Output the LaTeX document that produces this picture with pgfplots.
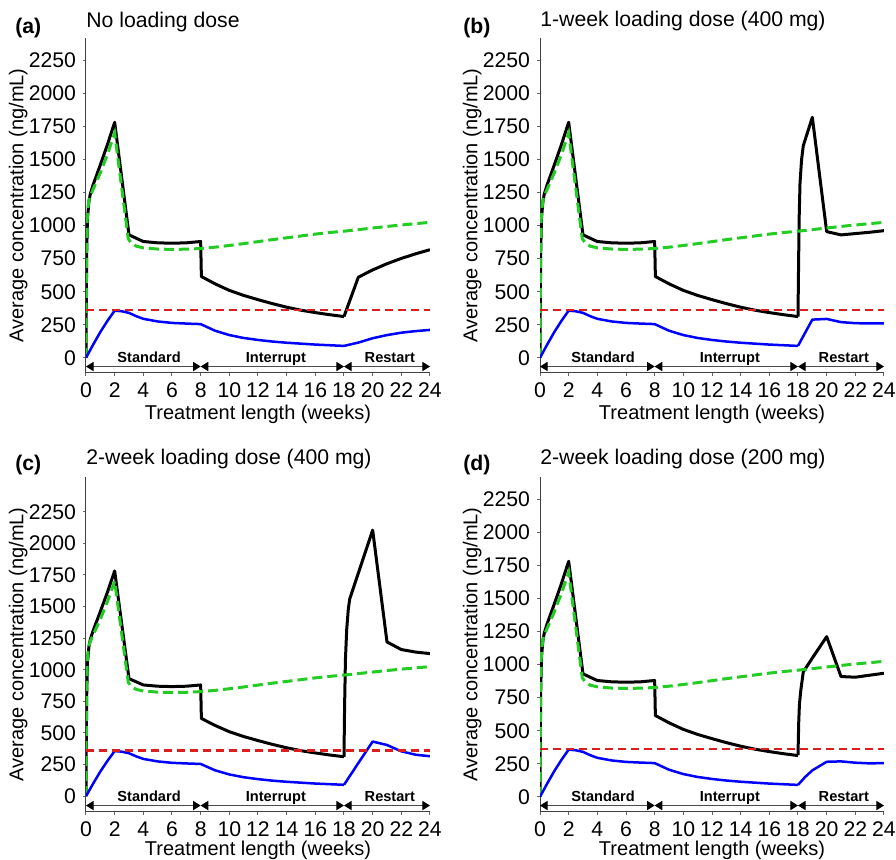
\documentclass[border=0pt]{standalone}
\usepackage{fontspec}
\setmainfont{Liberation Sans}
\usepackage{pgfplots}
\pgfplotsset{compat=1.18}
\usepackage{pgfplotstable}
\usetikzlibrary{arrows.meta}

\definecolor{cgreen}{RGB}{34,204,34}
\definecolor{cred}{RGB}{220,30,30}
\definecolor{cblue}{RGB}{0,0,255}

% ---- shared parts of the curves ----
\pgfplotstableread{
t c
0 0
0.02 500
0.05 900
0.1 1100
0.2 1190
0.3 1225
1 1400
1.5 1540
2 1700
2.95 900
3.2 865
3.5 845
4 832
5 823
6 820
7 822
8 827
9 837
10 850
11 864
12 879
13 894
14 908
15 922
16 936
17 948
18 958
19 970
20 982
21 994
22 1005
23 1015
24 1025
}\green

\pgfplotstableread{
t c
0 0
0.02 400
0.05 800
0.1 1050
0.2 1180
0.3 1240
0.5 1310
1 1460
1.5 1615
2 1782
3 930
4 880
5 870
6 867
7 870
8 880
8.05 615
9 560
10 510
11 472
12 440
13 410
14 383
15 360
16 342
17 326
18 312
}\blackbase

\pgfplotstableread{
t c
0 0
0.5 100
1 195
1.5 280
2 357
2.5 352
3 340
3.5 315
4 295
5 275
6 264
7 259
8 255
9 205
10 172
11 150
12 135
13 123
14 114
15 107
16 100
17 95
18 90
}\bluebase

% ---- restart phase, per panel ----
\pgfplotstableread{
t c
18 312
19 610
20 665
21 712
22 752
23 787
24 818
}\blackA
\pgfplotstableread{
t c
18 90
19 115
20 148
21 172
22 190
23 202
24 211
}\blueA

\pgfplotstableread{
t c
18 312
18.04 700
18.08 1050
18.14 1320
18.25 1500
18.37 1605
19 1820
20 955
21 930
22 940
23 950
24 962
}\blackB
\pgfplotstableread{
t c
18 90
18.5 190
19 289
20 294
21 270
22 262
23 260
24 260
}\blueB

\pgfplotstableread{
t c
18 312
18.04 700
18.1 1080
18.19 1320
18.3 1480
18.4 1560
19 1764
20 2105
21 1220
22 1160
23 1140
24 1128
}\blackC
\pgfplotstableread{
t c
18 90
19 262
20 432
21 405
22 355
23 328
24 316
}\blueC

\pgfplotstableread{
t c
18 315
18.05 560
18.1 700
18.2 810
18.37 945
19 1050
20 1212
21 910
22 905
23 920
24 935
}\blackD
\pgfplotstableread{
t c
18 90
18.5 150
19 200
20 265
21 268
22 258
23 253
24 255
}\blueD

\pgfplotsset{
  panel/.style={
    scale only axis, width=172pt, height=167.5pt,
    anchor=south west,
    xmin=0, xmax=24, xtick={0,2,...,24},
    ytick={0,250,...,2250},
    axis x line*=bottom, axis y line*=left,
    axis line style={-, black!75, line width=0.5pt},
    tick align=outside, major tick length=1.5pt,
    tick style={black!60, line width=0.5pt},
    tick label style={font=\fontsize{10.6}{12}\selectfont},
    /pgf/number format/assume math mode=true,
    /pgf/number format/1000 sep={},
    xlabel={Treatment length (weeks)},
    ylabel={Average concentration (ng/mL)},
    label style={font=\fontsize{10.8}{12}\selectfont},
    every axis y label/.style={at={(axis description cs:-0.197,0.5)}, rotate=90, anchor=center},
    every axis x label/.style={at={(axis description cs:0.5,0)}, anchor=center, yshift=-19pt},
  },
  toprow/.style={every axis x label/.append style={yshift=-1.8pt}},
  blk/.style={black, line width=1.5pt, line join=round},
  grn/.style={cgreen, line width=1.5pt, dash pattern=on 5pt off 2.5pt},
  blu/.style={cblue, line width=1.25pt, line join=round},
  rdd/.style={cred, line width=1.2pt, dash pattern=on 4pt off 2.5pt},
}

\tikzset{
  tip/.tip={Triangle[length=3.8pt,width=4.6pt,fill=black,color=black]},
  phaselbl/.style={font=\bfseries\fontsize{7.3}{8}\selectfont, anchor=base, inner sep=0pt, yshift=2.25pt},
}

\newcommand{\phases}[1]{%
  \draw[black!70, line width=0.5pt, tip-tip] (axis cs:0,#1) -- (axis cs:8,#1);
  \draw[black!70, line width=0.5pt, tip-tip] (axis cs:8,#1) -- (axis cs:18,#1);
  \draw[black!70, line width=0.5pt, tip-tip] (axis cs:18,#1) -- (axis cs:24,#1);
  \node[phaselbl] at (axis cs:4.4,#1) {Standard};
  \node[phaselbl] at (axis cs:13.25,#1) {Interrupt};
  \node[phaselbl] at (axis cs:21.2,#1) {Restart};
}

\newcommand{\common}{%
  \addplot[rdd] coordinates {(0,360) (24,360)};
}

\begin{document}
\begin{tikzpicture}
\useasboundingbox (0,0) rectangle (448pt,-430pt);

% (a)
\begin{axis}[panel, toprow, at={(43pt,-186.5pt)}, ymin=-115, ymax=2420]
\addplot[blk] table {\blackbase};
\addplot[blk] table {\blackA};
\addplot[grn] table {\green};
\addplot[blu] table {\bluebase};
\addplot[blu] table {\blueA};
\common
\phases{-66}
\end{axis}

% (b)
\begin{axis}[panel, toprow, at={(270pt,-186.5pt)}, ymin=-115, ymax=2420]
\addplot[blk] table {\blackbase};
\addplot[blk] table {\blackB};
\addplot[grn] table {\green};
\addplot[blu] table {\bluebase};
\addplot[blu] table {\blueB};
\common
\phases{-66}
\end{axis}

% (c)
\begin{axis}[panel, at={(43pt,-406pt)}, ymin=-125, ymax=2525]
\addplot[blk] table {\blackbase};
\addplot[blk] table {\blackC};
\addplot[grn] table {\green};
\addplot[blu] table {\bluebase};
\addplot[blu] table {\blueC};
\common
\phases{-74}
\end{axis}

% (d)
\begin{axis}[panel, at={(270pt,-406pt)}, ymin=-115, ymax=2420]
\addplot[blk] table {\blackbase};
\addplot[blk] table {\blackD};
\addplot[grn] table {\green};
\addplot[blu] table {\bluebase};
\addplot[blu] table {\blueD};
\common
\phases{-66}
\end{axis}

% panel letters and titles
\begin{scope}[every node/.style={inner sep=0pt, anchor=base west, font=\fontsize{10.6}{12}\selectfont}]
\node[font=\bfseries\fontsize{10.6}{12}\selectfont] at (7.5pt,-16.7pt) {(a)};
\node at (43pt,-13.7pt) {No loading dose};
\node[font=\bfseries\fontsize{10.6}{12}\selectfont] at (231.5pt,-16.7pt) {(b)};
\node at (270pt,-13.4pt) {1-week loading dose (400 mg)};
\node[font=\bfseries\fontsize{10.6}{12}\selectfont] at (7.5pt,-235.3pt) {(c)};
\node at (43pt,-232.5pt) {2-week loading dose (400 mg)};
\node[font=\bfseries\fontsize{10.6}{12}\selectfont] at (231.5pt,-235.3pt) {(d)};
\node at (270pt,-232.5pt) {2-week loading dose (200 mg)};
\end{scope}
\end{tikzpicture}
\end{document}
